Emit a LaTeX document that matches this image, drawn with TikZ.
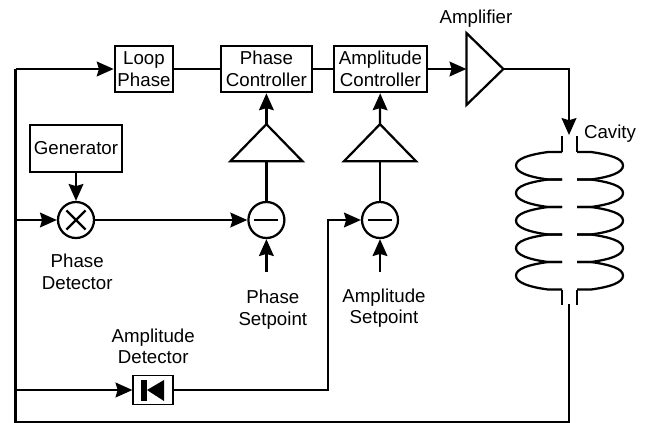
\documentclass[tikz,border=0pt]{standalone}
\usepackage{fontspec}
\setmainfont{Liberation Sans}
\usetikzlibrary{arrows.meta,shapes.geometric}
\tikzset{
    block/.style={draw,line width=1.9pt,inner sep=0pt,align=center,minimum height=1.15cm},
    sumpoint/.style={draw,circle,line width=1.6pt,inner sep=0pt,minimum size=0.9cm},
    ampl/.style={draw,isosceles triangle,isosceles triangle apex angle=90,isosceles triangle stretches,
        line width=1.6pt,inner sep=0pt,outer sep=0pt,minimum height=0.925cm,minimum width=1.8cm},
    name text/.style={align=center,inner sep=0pt,font=\fontsize{13.3}{15.4}\selectfont},
    wire/.style={line width=1.6pt}
}
\begin{document}
\begin{tikzpicture}[>={Stealth[length=12pt,width=10.5pt,inset=1.5pt]},font=\fontsize{13.3}{15.4}\selectfont]
    \useasboundingbox (0,0) rectangle (16.15,10.55);
    % top row
    \node[block,minimum width=1.45cm] (loop) at (3.6,8.825) {Loop\\Phase};
    \node[block,minimum width=2.275cm] (phasectrl) at (6.66,8.825) {Phase\\Controller};
    \node[block,minimum width=2.325cm] (ampctrl) at (9.51,8.825) {Amplitude\\Controller};
    \node[ampl] (amp) at (12.04,8.825) {};
    \node[name text] (amplabel) at (11.9,10.075) {Amplifier};
    % phase branch
    \node[block,minimum width=2.3cm,minimum height=1.175cm] (gen) at (1.9,6.84) {Generator};
    \node[sumpoint] (mixer) at (1.9,5.05) {};
    \node[sumpoint] (phasesum) at (6.66,5.05) {};
    \node[sumpoint] (ampsum) at (9.5,5.05) {};
    \node[ampl,shape border rotate=90] (phaseamp) at (6.66,6.9) {};
    \node[ampl,shape border rotate=90] (ampamp) at (9.5,6.9) {};
    \node[name text] (mixlabel) at (1.93,3.76) {Phase\\Detector};
    \node[name text] (phaselabel) at (6.82,2.81) {Phase\\Setpoint};
    \node[name text] (amplitudelabel) at (9.6,2.85) {Amplitude\\Setpoint};
    % amplitude detector
    \node[draw,line width=1.1pt,minimum width=1cm,minimum height=0.725cm,inner sep=0pt] (det) at (3.83,0.8) {};
    \node[name text] (detlabel) at (3.83,1.89) {Amplitude\\Detector};
    \fill (3.525,1.05) rectangle (3.675,0.525);
    \fill (3.675,0.8) -- (4.1,1.05) -- (4.1,0.525) -- cycle;
    % free ends
    \coordinate (lefttop) at (0.39,8.825);
    \coordinate (leftmix) at (0.39,5.05);
    \coordinate (leftdet) at (0.39,0.8);
    \coordinate (leftbot) at (0.39,-0.012);
    \coordinate (rightbot) at (14.225,-0.012);
    \coordinate (cavout) at (14.225,2.95);
    \coordinate (cavin) at (14.225,7.175);
    \coordinate (corner) at (14.225,8.825);
    \coordinate (phaseset) at (6.66,3.75);
    \coordinate (ampset) at (9.5,3.75);
    % connectors
    \draw[wire] (lefttop) -- (leftbot) -- (rightbot) -- (cavout);
    \draw[wire,->] (lefttop) -- (loop);
    \draw[wire] (loop) -- (phasectrl);
    \draw[wire] (phasectrl) -- (ampctrl);
    \draw[wire,->] (ampctrl) -- (amp.lower side);
    \draw[wire,->] (amp.apex) -- (corner) -- (cavin);
    \draw[wire,->] (gen) -- (mixer);
    \draw[wire,->] (leftmix) -- (mixer);
    \draw[wire,->] (mixer) -- (phasesum);
    \draw[wire] (phasesum) -- (phaseamp.lower side);
    \draw[wire,->] (phaseamp.apex) -- (phasectrl);
    \draw[wire] (ampsum) -- (ampamp.lower side);
    \draw[wire,->] (ampamp.apex) -- (ampctrl);
    \draw[wire,->] (phaseset) -- (phasesum);
    \draw[wire,->] (ampset) -- (ampsum);
    \draw[wire,->] (leftdet) -- (det);
    \draw[wire,->] (det) -| (8.2,5.05) -- (ampsum);
    % signs
    \draw[line width=1.6pt] (1.66,5.29) -- (2.14,4.81);
    \draw[line width=1.6pt] (2.14,5.29) -- (1.66,4.81);
    \draw[line width=2pt] (6.36,5.05) -- (6.96,5.05);
    \draw[line width=2pt] (9.2,5.05) -- (9.8,5.05);
    % cavity
    \node[name text] (cavlabel) at (15.25,7.2) {Cavity};
    \draw[wire] (14.05,7.15) -- (14.05,6.75);
    \draw[wire] (14.425,7.15) -- (14.425,6.75);
    \foreach \y in {6.75,6.0625,5.375,4.6875,4} {
        \draw[wire] (14.05,\y) -- (13.7,\y) .. controls (13.2,\y-0.07) and (12.9,\y-0.17) .. (12.9,\y-0.34)
            .. controls (12.9,\y-0.51) and (13.2,\y-0.62) .. (13.7,\y-0.6875) -- (14.05,\y-0.6875);
        \draw[wire] (14.425,\y) -- (14.775,\y) .. controls (15.275,\y-0.07) and (15.575,\y-0.17) .. (15.575,\y-0.34)
            .. controls (15.575,\y-0.51) and (15.275,\y-0.62) .. (14.775,\y-0.6875) -- (14.425,\y-0.6875);
    }
    \draw[wire] (14.05,3.3125) -- (14.05,2.925);
    \draw[wire] (14.425,3.3125) -- (14.425,2.925);
\end{tikzpicture}
\end{document}
